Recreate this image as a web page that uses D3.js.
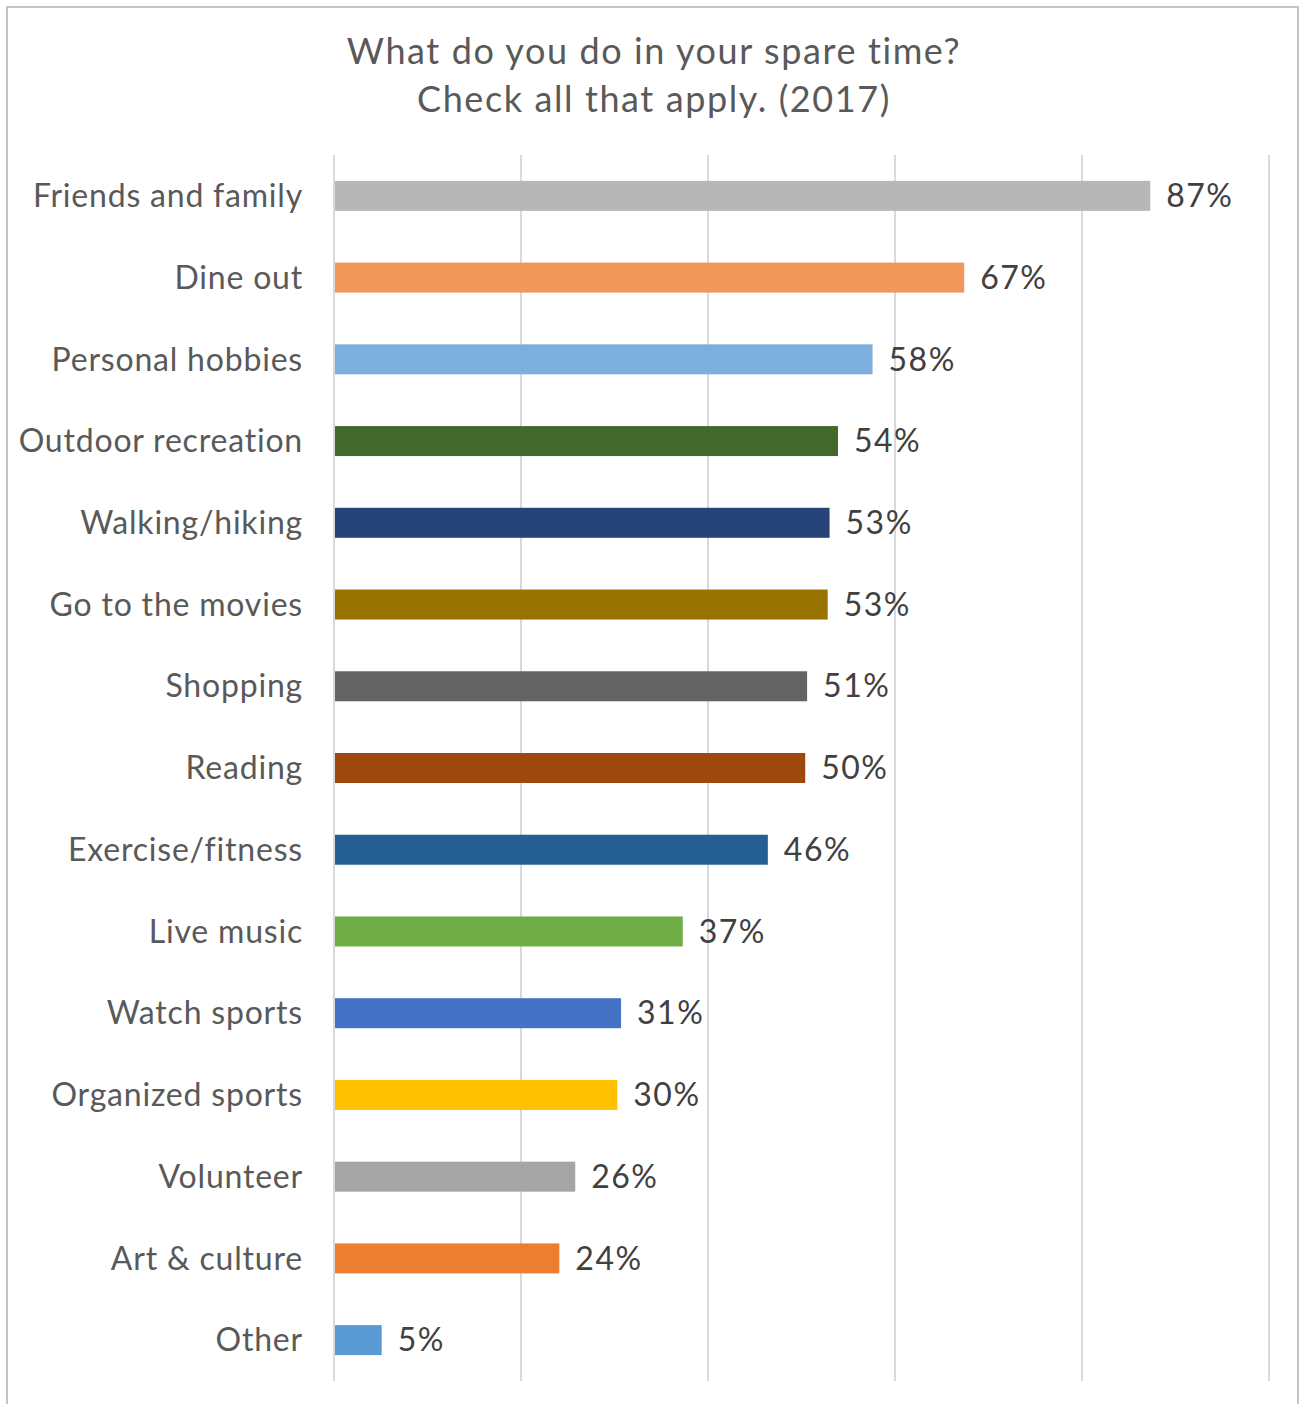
<!DOCTYPE html>
<html>
<head>
<meta charset="utf-8">
<script src="https://cdn.jsdelivr.net/npm/d3@7/dist/d3.min.js"></script>
<style>
  html, body { margin: 0; padding: 0; background: #ffffff; }
  svg { display: block; }
  text { font-family: Lato, "Open Sans", sans-serif; }
</style>
</head>
<body>
<svg id="chart" width="1302" height="1404"></svg>
<script>
const titleLines = ["What do you do in your spare time?", "Check all that apply. (2017)"];
const categories = ["Friends and family", "Dine out", "Personal hobbies", "Outdoor recreation", "Walking/hiking",
  "Go to the movies", "Shopping", "Reading", "Exercise/fitness", "Live music", "Watch sports",
  "Organized sports", "Volunteer", "Art & culture", "Other"];
const values = [87.3, 67.4, 57.6, 53.9, 53.0, 52.8, 50.6, 50.4, 46.4, 37.3, 30.7, 30.3, 25.8, 24.1, 5.1];
const colors = ["#B7B7B7", "#F1975A", "#7CAFDD", "#43682B", "#264478", "#997300", "#636363", "#9E480E",
  "#255E91", "#70AD47", "#4472C4", "#FFC000", "#A5A5A5", "#ED7D31", "#5B9BD5"];
const xTicks = [0, 20, 40, 60, 80, 100];

const svg = d3.select("#chart");

// outer frame (bottom edge outside the picture)
svg.append("rect")
  .attr("x", 7).attr("y", 7).attr("width", 1291).attr("height", 1420)
  .attr("fill", "none").attr("stroke", "#C4C4C4").attr("stroke-width", 2);

const x = d3.scaleLinear().domain([0, 100]).range([334, 1269]);
const y = d3.scaleBand().domain(categories).range([155, 1381]).paddingInner(0.633).paddingOuter(0.3165);

// gridlines
svg.append("g").selectAll("line").data(xTicks).join("line")
  .attr("x1", d => x(d)).attr("x2", d => x(d))
  .attr("y1", 155).attr("y2", 1381)
  .attr("stroke", "#D9D9D9").attr("stroke-width", 2);

// title
svg.append("g").selectAll("text").data(titleLines).join("text")
  .attr("x", 654).attr("y", (d, i) => 64 + i * 48)
  .attr("text-anchor", "middle")
  .attr("font-size", 36).attr("letter-spacing", 1.6).attr("fill", "#595959")
  .text(d => d);

// bars
svg.append("g").selectAll("rect").data(categories).join("rect")
  .attr("x", x(0) + 1)
  .attr("y", d => y(d))
  .attr("width", (d, i) => x(values[i]) - x(0) - 1)
  .attr("height", y.bandwidth())
  .attr("fill", (d, i) => colors[i]);

// category labels
svg.append("g").selectAll("text").data(categories).join("text")
  .attr("x", 303)
  .attr("y", d => y(d) + y.bandwidth() / 2)
  .attr("dy", "0.35em")
  .attr("text-anchor", "end")
  .attr("font-size", 32).attr("letter-spacing", 0.8).attr("fill", "#595959")
  .text(d => d);

// value labels
svg.append("g").selectAll("text").data(categories).join("text")
  .attr("x", (d, i) => x(values[i]) + 16)
  .attr("y", d => y(d) + y.bandwidth() / 2)
  .attr("dy", "0.35em")
  .attr("font-size", 32).attr("letter-spacing", 1.5).attr("fill", "#404040")
  .text((d, i) => Math.round(values[i]) + "%");
</script>
</body>
</html>
